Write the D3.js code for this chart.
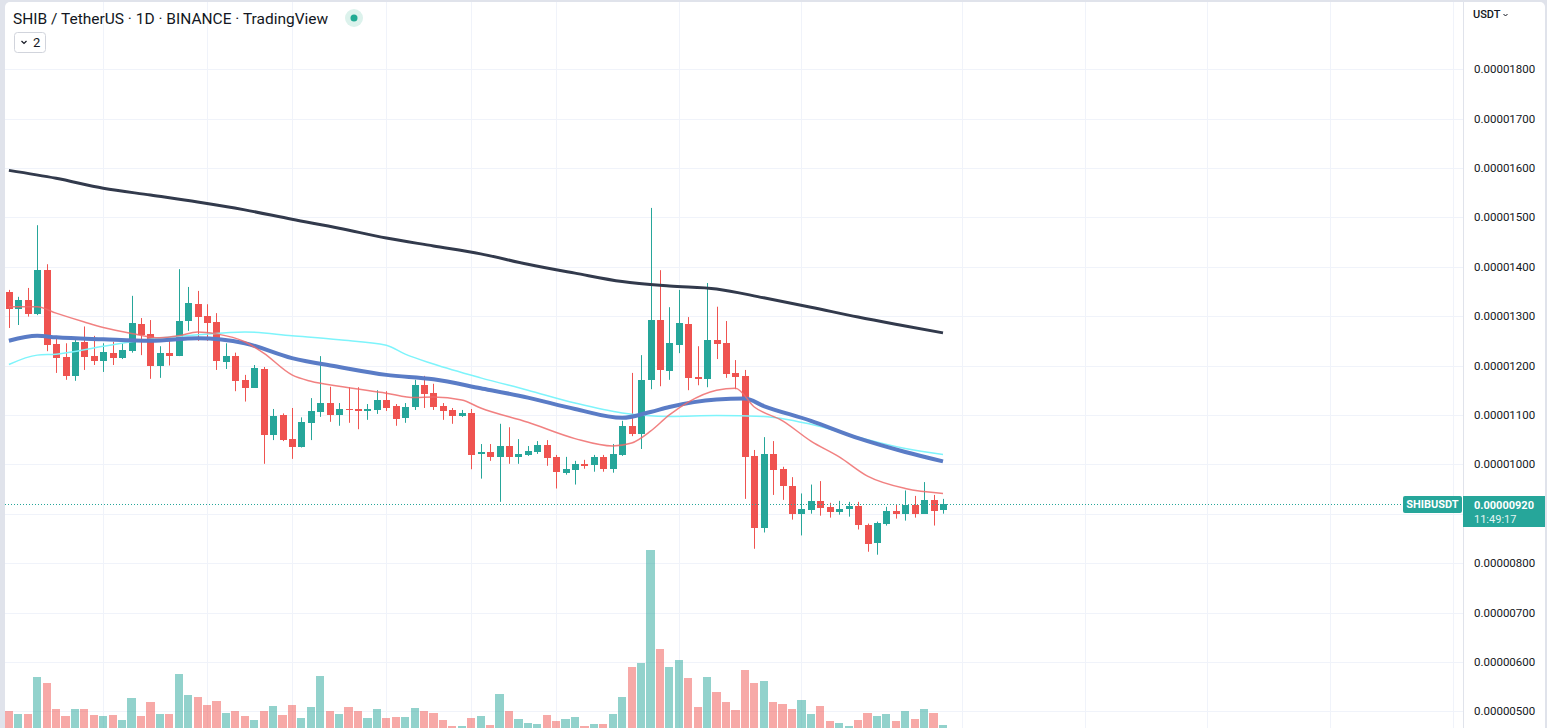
<!DOCTYPE html>
<html>
<head>
<meta charset="utf-8">
<script src="https://cdn.jsdelivr.net/npm/d3@7/dist/d3.min.js"></script>
<style>
  html, body { margin: 0; padding: 0; background: #e0e3eb; overflow: hidden; }
  #chart { width: 1547px; height: 728px; }
  text { font-family: Roboto, "Noto Sans", sans-serif; }
</style>
</head>
<body>
<div id="chart"></div>
<script>
// price values are in units of 1e-8 USDT
const PRICE_UNIT = 1e-8

const opens = [1349, 1314, 1333, 1304, 1393, 1243, 1217, 1179, 1248, 1219,
  1210, 1225, 1216, 1230, 1284, 1264, 1200, 1225, 1220, 1291,
  1324, 1300, 1288, 1208, 1219, 1171, 1155, 1193, 1059, 1100,
  1051, 1035, 1084, 1106, 1124, 1100, 1112, 1112, 1108, 1110,
  1130, 1118, 1094, 1116, 1160, 1144, 1118, 1110, 1098, 1104,
  1021, 1025, 1015, 1037, 1015, 1019, 1025, 1039, 1015, 983,
  989, 1001, 999, 1015, 991, 1019, 1078, 1061, 1171, 1292,
  1189, 1241, 1284, 1177, 1173, 1252, 1246, 1185, 1179, 1017,
  872, 1021, 990, 957, 900, 908, 926, 914, 904, 910,
  916, 878, 841, 880, 905, 900, 918, 900, 928, 908]
const highs = [1353, 1339, 1357, 1484, 1405, 1260, 1245, 1255, 1279, 1260,
  1245, 1248, 1245, 1341, 1296, 1292, 1239, 1250, 1395, 1359,
  1351, 1324, 1306, 1245, 1226, 1181, 1201, 1197, 1112, 1103,
  1114, 1095, 1134, 1219, 1157, 1124, 1156, 1156, 1122, 1150,
  1148, 1122, 1124, 1171, 1179, 1163, 1124, 1114, 1110, 1112,
  1041, 1041, 1082, 1075, 1051, 1037, 1047, 1049, 1019, 1015,
  1007, 1009, 1019, 1019, 1041, 1088, 1185, 1221, 1519, 1393,
  1318, 1353, 1298, 1239, 1367, 1319, 1290, 1211, 1191, 1029,
  1055, 1047, 995, 974, 941, 959, 966, 922, 926, 924,
  924, 880, 884, 914, 918, 947, 936, 964, 938, 930]
const lows = [1276, 1282, 1299, 1302, 1229, 1185, 1171, 1169, 1191, 1201,
  1187, 1201, 1213, 1226, 1221, 1173, 1175, 1200, 1219, 1270,
  1250, 1250, 1191, 1193, 1148, 1127, 1155, 1001, 1049, 1047,
  1011, 1034, 1049, 1096, 1086, 1078, 1084, 1071, 1090, 1102,
  1108, 1078, 1084, 1110, 1114, 1110, 1090, 1082, 1096, 990,
  971, 1007, 924, 1001, 1001, 1017, 1021, 997, 951, 979,
  959, 991, 985, 985, 983, 1017, 1057, 1031, 1152, 1158,
  1171, 1225, 1150, 1160, 1156, 1213, 1175, 1152, 930, 829,
  862, 938, 928, 888, 856, 900, 896, 892, 898, 894,
  868, 823, 817, 876, 890, 886, 892, 900, 876, 900]
const closes = [1314, 1333, 1304, 1393, 1241, 1216, 1179, 1248, 1218, 1210,
  1227, 1216, 1231, 1286, 1262, 1200, 1225, 1220, 1290, 1326,
  1299, 1287, 1210, 1219, 1169, 1155, 1195, 1059, 1098, 1049,
  1036, 1086, 1108, 1124, 1100, 1112, 1110, 1108, 1112, 1130,
  1114, 1092, 1116, 1160, 1142, 1116, 1108, 1098, 1104, 1019,
  1025, 1015, 1037, 1015, 1021, 1027, 1039, 1013, 985, 991,
  1001, 997, 1015, 991, 1021, 1078, 1061, 1171, 1292, 1191,
  1246, 1286, 1175, 1173, 1252, 1244, 1183, 1177, 1015, 872,
  1021, 988, 957, 900, 910, 926, 912, 904, 910, 916,
  878, 839, 881, 905, 900, 918, 900, 928, 906, 920]
// volume, relative units
const volumes = [18, 15, 15, 52, 46, 20, 13, 20, 20, 14,
  13, 14, 9, 31, 13, 27, 15, 15, 55, 34,
  32, 24, 28, 16, 18, 13, 9, 18, 23, 14,
  24, 11, 22, 53, 18, 15, 22, 18, 11, 20,
  11, 12, 12, 21, 18, 16, 9, 3, 3, 11,
  13, 4, 35, 18, 10, 6, 5, 14, 8, 10,
  12, 3, 5, 5, 15, 32, 62, 66, 179, 80,
  62, 69, 51, 22, 52, 37, 27, 19, 59, 46,
  48, 27, 25, 20, 29, 15, 23, 8, 6, 3,
  9, 16, 13, 15, 8, 18, 10, 20, 16, 4]

// moving averages read at [bar index, price]
const maSlow = [[0, 1595], [5, 1579], [10, 1559], [15, 1545], [20, 1531], [25, 1515],
  [30, 1496], [35, 1478], [40, 1458], [45, 1442], [50, 1426], [55, 1405], [60, 1387],
  [65, 1370], [70, 1361], [75, 1355], [80, 1337], [85, 1318], [90, 1298], [95, 1280], [99, 1266]]
const maBlue = [[0, 1250], [3, 1260], [5, 1257], [10, 1253], [15, 1250], [20, 1255],
  [25, 1245], [30, 1215], [35, 1197], [40, 1181], [45, 1172], [50, 1154], [55, 1135],
  [60, 1112], [65, 1094], [68, 1106], [70, 1116], [75, 1131], [78, 1133], [80, 1118],
  [85, 1088], [90, 1053], [95, 1025], [99, 1006]]
const maCyan = [[0, 1202], [3, 1221], [5, 1223], [10, 1239], [15, 1253], [20, 1262],
  [25, 1268], [30, 1260], [35, 1252], [40, 1241], [42, 1223], [45, 1203], [50, 1175],
  [55, 1150], [60, 1124], [65, 1104], [70, 1097], [75, 1099], [80, 1097], [85, 1081],
  [90, 1055], [95, 1032], [99, 1020]]
const maRed = [[0, 1319], [3, 1319], [5, 1306], [8, 1288], [10, 1277], [13, 1265],
  [16, 1256], [18, 1260], [20, 1268], [22, 1264], [25, 1248], [27, 1225], [30, 1181],
  [32, 1168], [35, 1158], [40, 1144], [43, 1135], [45, 1136], [48, 1130], [50, 1114],
  [55, 1085], [60, 1052], [64, 1037], [66, 1043], [68, 1067], [70, 1100], [72, 1126],
  [75, 1150], [77, 1154], [79, 1116], [82, 1088], [85, 1047], [88, 1015], [91, 976],
  [95, 951], [99, 941]]

const priceTicks = [500, 600, 700, 800, 900, 1000, 1100, 1200, 1300, 1400, 1500, 1600, 1700, 1800]
const timeGridBars = [10, 21, 30, 40, 49, 58, 71, 84, 101, 114, 127, 140, 153]
const lastPrice = 920
const titleText = 'SHIB / TetherUS · 1D · BINANCE · TradingView'
const symbolText = 'SHIBUSDT'
const countdownText = '11:49:17'
const currencyText = 'USDT'

const upColor = '#26a69a', downColor = '#ef5350'
const upVol = 'rgba(38,166,154,0.5)', downVol = 'rgba(239,83,80,0.5)'

const dims = { width: 1547, height: 728, left: 5, top: 2, axisX: 1463, right: 1545 }

const svg = d3.select('#chart')
  .append('svg')
  .attr('width', dims.width)
  .attr('height', dims.height)

// panel
svg.append('rect')
  .attr('x', dims.left).attr('y', dims.top)
  .attr('width', dims.right - dims.left).attr('height', dims.height + 10)
  .attr('rx', 5)
  .attr('fill', '#fff')

const x = d3.scaleLinear().domain([0, 99]).range([8.9, 943])
const y = d3.scaleLinear().domain([1000, 1800]).range([464.3, 69.1])
const yVol = d3.scaleLinear().domain([0, 179]).range([729, 550])
const fmtPrice = v => (v * PRICE_UNIT).toFixed(8)

const plot = svg.append('g')

// grid
plot.append('g').selectAll('line')
  .data(priceTicks)
  .join('line')
  .attr('x1', dims.left).attr('x2', dims.axisX)
  .attr('y1', d => Math.round(y(d)) + 0.5).attr('y2', d => Math.round(y(d)) + 0.5)
  .attr('stroke', '#f0f3fa')
plot.append('g').selectAll('line')
  .data(timeGridBars)
  .join('line')
  .attr('x1', d => Math.round(x(d)) + 0.5).attr('x2', d => Math.round(x(d)) + 0.5)
  .attr('y1', dims.top).attr('y2', dims.height)
  .attr('stroke', '#f0f3fa')

const bars = opens.map((o, i) => ({ i, o, h: highs[i], l: lows[i], c: closes[i], v: volumes[i], up: closes[i] >= o }))

// volume
plot.append('g').selectAll('rect')
  .data(bars)
  .join('rect')
  .attr('x', d => x(d.i) - 4.1)
  .attr('width', 8.2)
  .attr('y', d => yVol(d.v))
  .attr('height', d => yVol(0) - yVol(d.v))
  .attr('fill', d => d.up ? upVol : downVol)
  .attr('shape-rendering', 'crispEdges')

// candles
const candle = plot.append('g').selectAll('g')
  .data(bars)
  .join('g')
candle.append('line')
  .attr('x1', d => Math.round(x(d.i)) + 0.5).attr('x2', d => Math.round(x(d.i)) + 0.5)
  .attr('y1', d => y(d.h)).attr('y2', d => y(d.l))
  .attr('stroke', d => d.up ? upColor : downColor)
candle.append('rect')
  .attr('x', d => Math.round(x(d.i)) - 3)
  .attr('width', 7)
  .attr('y', d => y(Math.max(d.o, d.c)))
  .attr('height', d => Math.max(1, Math.abs(y(d.o) - y(d.c))))
  .attr('fill', d => d.up ? upColor : downColor)
  .attr('shape-rendering', 'crispEdges')

// moving averages
const maLine = d3.line().x(d => x(d[0])).y(d => y(d[1])).curve(d3.curveMonotoneX)
const maStyles = [
  { data: maCyan, color: '#7ef4fb', width: 1.5, opacity: 1 },
  { data: maBlue, color: '#5a7cc6', width: 4, opacity: 1 },
  { data: maSlow, color: '#323a4c', width: 3, opacity: 1 },
  { data: maRed, color: '#ef6b6b', width: 1.5, opacity: 0.85 },
]
plot.append('g').selectAll('path')
  .data(maStyles)
  .join('path')
  .attr('d', d => maLine(d.data))
  .attr('fill', 'none')
  .attr('stroke', d => d.color)
  .attr('stroke-width', d => d.width)
  .attr('stroke-opacity', d => d.opacity)
  .attr('stroke-linejoin', 'round')

// last price line
const lastY = Math.round(y(lastPrice)) + 0.5
plot.append('line')
  .attr('x1', dims.left).attr('x2', 1403)
  .attr('y1', lastY).attr('y2', lastY)
  .attr('stroke', upColor)
  .attr('stroke-dasharray', '1,2')

// legend / title
svg.append('text')
  .attr('x', 13).attr('y', 24)
  .attr('font-size', 15.5)
  .attr('fill', '#131722')
  .text(titleText)
svg.append('circle').attr('cx', 354).attr('cy', 18).attr('r', 9).attr('fill', '#dcf2ec')
svg.append('circle').attr('cx', 354).attr('cy', 18).attr('r', 3.5).attr('fill', '#22ab94')
svg.append('rect')
  .attr('x', 14.5).attr('y', 32.5).attr('width', 31).attr('height', 20).attr('rx', 3)
  .attr('fill', '#fff').attr('stroke', '#d1d4dc')
svg.append('path')
  .attr('d', 'M21.5,41 L24,43.5 L26.5,41')
  .attr('fill', 'none').attr('stroke', '#131722').attr('stroke-width', 1.2)
svg.append('text')
  .attr('x', 33).attr('y', 47)
  .attr('font-size', 13)
  .attr('fill', '#131722')
  .text('2')

// price axis (labels hidden under the last price label are skipped)
const axis = svg.append('g')
axis.append('line')
  .attr('x1', dims.axisX + 0.5).attr('x2', dims.axisX + 0.5)
  .attr('y1', dims.top).attr('y2', dims.height)
  .attr('stroke', '#e0e3eb')
axis.append('g').selectAll('text')
  .data(priceTicks.filter(d => Math.abs(y(d) - y(lastPrice)) > 24))
  .join('text')
  .attr('x', 1474)
  .attr('y', d => y(d))
  .attr('dy', '0.35em')
  .attr('font-size', 11.5)
  .attr('fill', '#131722')
  .text(fmtPrice)
axis.append('text')
  .attr('x', 1473).attr('y', 18)
  .attr('font-size', 11)
  .attr('font-weight', 500)
  .attr('fill', '#131722')
  .text(currencyText)
axis.append('path')
  .attr('d', 'M1503.5,14 L1505.5,16 L1507.5,14')
  .attr('fill', 'none').attr('stroke', '#131722').attr('stroke-width', 1)

// last price labels
axis.append('rect')
  .attr('x', 1403).attr('y', lastY - 8.5).attr('width', 59).attr('height', 17).attr('rx', 2)
  .attr('fill', upColor)
axis.append('text')
  .attr('x', 1432.5).attr('y', lastY).attr('dy', '0.35em')
  .attr('text-anchor', 'middle')
  .attr('font-size', 11).attr('font-weight', 700)
  .attr('fill', '#fff')
  .text(symbolText)
axis.append('rect')
  .attr('x', dims.axisX).attr('y', lastY - 8.5).attr('width', 82).attr('height', 31)
  .attr('fill', upColor)
axis.append('text')
  .attr('x', 1474).attr('y', lastY + 0.5).attr('dy', '0.35em')
  .attr('font-size', 11).attr('font-weight', 700)
  .attr('fill', '#fff')
  .text(fmtPrice(lastPrice))
axis.append('text')
  .attr('x', 1474).attr('y', lastY + 14.5).attr('dy', '0.35em')
  .attr('font-size', 11)
  .attr('fill', '#fff')
  .attr('fill-opacity', 0.9)
  .text(countdownText)
</script>
</body>
</html>
